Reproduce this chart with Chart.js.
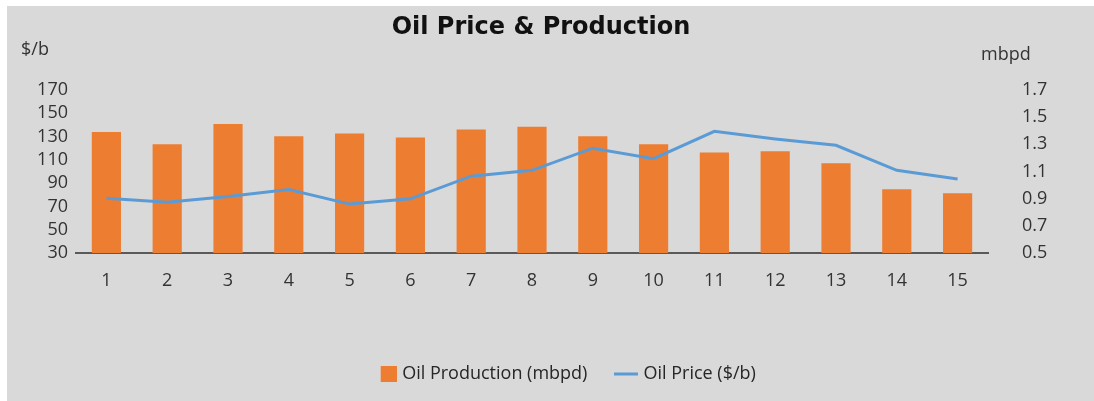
<!DOCTYPE html>
<html>
<head>
<meta charset="utf-8">
<script src="https://cdn.jsdelivr.net/npm/chart.js@4"></script>
<style>
  html, body { margin: 0; padding: 0; background: #fff; }
  #wrap { position: absolute; left: 7px; top: 6px; width: 1087px; height: 395px; background: #d9d9d9; }
</style>
</head>
<body>
<div id="wrap"><canvas id="chart" width="1087" height="395"></canvas></div>
<script>
// values
const periods = ['1', '2', '3', '4', '5', '6', '7', '8', '9', '10', '11', '12', '13', '14', '15'];
const production = [1.39, 1.30, 1.45, 1.36, 1.38, 1.35, 1.41, 1.43, 1.36, 1.30, 1.24, 1.25, 1.16, 0.97, 0.94];
const price = [77, 73.5, 78.5, 84.5, 72, 76.5, 96, 101, 120, 111, 134.5, 128, 122.5, 101, 93.5];
const priceTicks = [30, 50, 70, 90, 110, 130, 150, 170];
const prodTicks = [0.5, 0.7, 0.9, 1.1, 1.3, 1.5, 1.7];

const FONT = '"Open Sans", Lato, sans-serif';
const TEXT = '#333333';
const ORANGE = '#ed7d31';
const BLUE = '#5b9bd5';

// legend swatches: square for bars, short stroke for the line
function swatch(kind) {
    const c = document.createElement('canvas');
    c.width = 24;
    c.height = 16;
    const g = c.getContext('2d');
    if (kind === 'bar') {
        g.fillStyle = ORANGE;
        g.fillRect(8, 0, 16, 16);
    } else {
        g.fillStyle = BLUE;
        g.fillRect(0, 6.5, 24, 3);
    }
    return c;
}
const barSwatch = swatch('bar');
const lineSwatch = swatch('line');

const extraText = {
    id: 'extraText',
    afterDraw(chart) {
        const ctx = chart.ctx;
        ctx.save();
        ctx.fillStyle = '#111';
        ctx.font = 'bold 24px "DejaVu Sans", sans-serif';
        ctx.textAlign = 'center';
        ctx.textBaseline = 'middle';
        ctx.fillText('Oil Price & Production', 534, 22);
        ctx.fillStyle = TEXT;
        ctx.font = '18px ' + FONT;
        ctx.textAlign = 'left';
        ctx.fillText('$/b', 14, 44);
        ctx.fillText('mbpd', 974, 49);
        ctx.restore();
    }
};

new Chart(document.getElementById('chart'), {
    data: {
        labels: periods,
        datasets: [
            {
                type: 'bar',
                label: 'Oil Production (mbpd)',
                data: production,
                backgroundColor: ORANGE,
                yAxisID: 'y1',
                barPercentage: 0.48,
                categoryPercentage: 1,
                order: 2
            },
            {
                type: 'line',
                label: 'Oil Price ($/b)',
                data: price,
                borderColor: BLUE,
                borderWidth: 3,
                pointRadius: 0,
                tension: 0,
                yAxisID: 'y',
                order: 1
            }
        ]
    },
    options: {
        responsive: false,
        animation: false,
        layout: { padding: { top: 84, left: 31, right: 0, bottom: 8 } },
        plugins: {
            title: { display: false },
            tooltip: { enabled: false },
            legend: {
                position: 'bottom',
                labels: {
                    usePointStyle: true,
                    pointStyleWidth: 17,
                    padding: 30,
                    color: '#262626',
                    font: { family: FONT, size: 18 },
                    generateLabels: (chart) => chart.data.datasets.map((ds, i) => ({
                        text: ds.label,
                        datasetIndex: i,
                        pointStyle: i === 0 ? barSwatch : lineSwatch,
                        fillStyle: 'transparent',
                        strokeStyle: 'transparent',
                        lineWidth: 0,
                        fontColor: '#262626'
                    }))
                }
            }
        },
        scales: {
            x: {
                grid: { display: false, drawTicks: false },
                border: { display: true, color: '#5a5a5a', width: 2 },
                ticks: { color: TEXT, font: { family: FONT, size: 18 }, padding: 17, maxRotation: 0 },
                afterFit: (s) => { s.height = 82; }
            },
            y: {
                position: 'left',
                min: 30,
                max: 170,
                grid: { display: false, drawTicks: false },
                border: { display: false },
                afterBuildTicks: (s) => { s.ticks = priceTicks.map(v => ({ value: v })); },
                ticks: { color: TEXT, font: { family: FONT, size: 18 }, padding: 8, autoSkip: false },
                afterFit: (s) => { s.width = 38; }
            },
            y1: {
                position: 'right',
                min: 0.5,
                max: 1.7,
                grid: { display: false, drawTicks: false },
                border: { display: false },
                afterBuildTicks: (s) => { s.ticks = prodTicks.map(v => ({ value: v })); },
                ticks: { color: TEXT, font: { family: FONT, size: 18 }, padding: 34, autoSkip: false,
                    callback: (v) => v.toFixed(1) },
                afterFit: (s) => { s.width = 106; }
            }
        }
    },
    plugins: [extraText]
});
</script>
</body>
</html>
